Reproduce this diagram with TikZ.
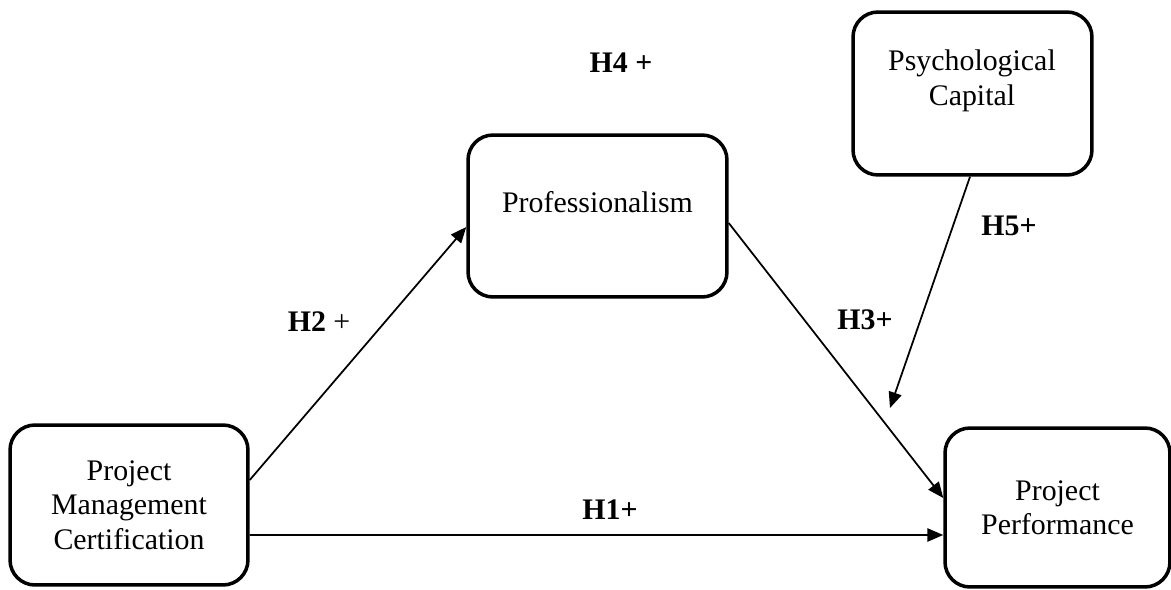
\documentclass[tikz,border=0pt]{standalone}
\usepackage{fontspec}
\setmainfont{Liberation Serif}
\usetikzlibrary{%
        arrows.meta
    }
\tikzset{%
    varbox/.style={%
        draw, line width=2pt, rounded corners=0.5cm,
        align=center, inner sep=0pt
    },
    boxtext/.style={align=center},
    hyplabel/.style={font=\fontsize{17}{19.6}\selectfont\bfseries},
    hyparrow/.style={%
        -{Triangle[length=9pt, width=7.5pt]}, line width=1pt
    }
}

\begin{document}
\begin{tikzpicture}[x=0.02cm, y=-0.02cm, font=\fontsize{17}{19.6}\selectfont]

    \useasboundingbox (0, 0) rectangle (1171, 589);

    % Variables
    \node[varbox, minimum width=4.76cm, minimum height=3.2cm] (pmc) at (129, 505)
        {Project\\Management\\Certification};

    \node[varbox, minimum width=5.18cm, minimum height=3.24cm] (prof) at (597.5, 216) {};
    \node[boxtext] (prof-text) at (597.5, 202) {Professionalism};

    \node[varbox, minimum width=4.78cm, minimum height=3.26cm] (psycap) at (972.5, 93.5) {};
    \node[boxtext] (psycap-text) at (972, 81) {Psychological\\Capital};

    \node[varbox, minimum width=4.5cm, minimum height=3.18cm] (pp) at (1057.5, 507.5)
        {Project\\Performance};

    % Moderation point
    \coordinate (mod-end) at (890, 408);

    % Hypotheses
    \draw[hyparrow]
        ([yshift=-0.6cm] pmc.east) -- ([yshift=-0.55cm] pp.west);
    \draw[hyparrow]
        ([yshift=0.5cm] pmc.east) -- ([yshift=-0.22cm] prof.west);
    \draw[hyparrow]
        ([yshift=-0.14cm] prof.east) -- ([yshift=0.19cm] pp.west);
    \draw[hyparrow]
        ([xshift=-0.05cm] psycap.south) -- (mod-end);

    \node[hyplabel] (h1) at (610, 510) {H1+};
    \node (h2) at (319, 322) {\textbf{H2} +};
    \node[hyplabel] (h3) at (865, 320) {H3+};
    \node[hyplabel] (h4) at (621, 63) {H4 +};
    \node[hyplabel] (h5) at (1009, 226) {H5+};

\end{tikzpicture}
\end{document}
